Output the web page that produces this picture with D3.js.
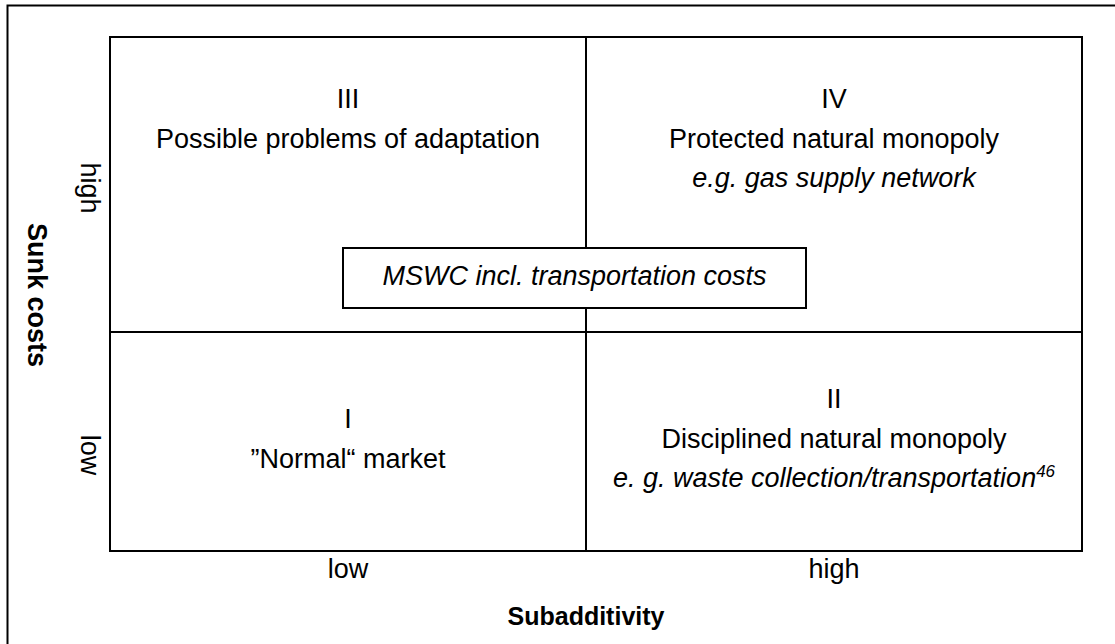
<!DOCTYPE html>
<html>
<head>
<meta charset="utf-8">
<script src="https://cdn.jsdelivr.net/npm/d3@7"></script>
<style>
  body { margin: 0; background: #fff; }
  svg text { font-family: "Liberation Sans", Arial, sans-serif; fill: #000; }
</style>
</head>
<body>
<div id="chart"></div>
<script>
// categories on each axis
var xLevels = ["low", "high"];
var yLevels = ["high", "low"];

// quadrant texts: numeral, title, example
var quadNames = ["III", "IV", "I", "II"];
var quadX = ["low", "high", "low", "high"];
var quadY = ["high", "high", "low", "low"];
var quadTitles = ["Possible problems of adaptation", "Protected natural monopoly", "\u201DNormal\u201C market", "Disciplined natural monopoly"];
var quadExamples = ["", "e.g. gas supply network", "", "e. g. waste collection/transportation"];
var quadNotes = ["", "", "", "46"];

var centerLabel = "MSWC incl. transportation costs";
var xTitle = "Subadditivity";
var yTitle = "Sunk costs";

var width = 1115;
var height = 644;
var fontSize = 27;

var svg = d3.select("#chart")
    .append("svg")
    .attr("width", width)
    .attr("height", height);

// frame round the whole figure (right & bottom run off the page)
svg.append("rect")
    .attr("x", 7.5)
    .attr("y", 5.5)
    .attr("width", width + 20)
    .attr("height", height + 20)
    .attr("fill", "none")
    .attr("stroke", "#000")
    .attr("stroke-width", 2);

// piecewise scales: the split between low and high is not in the middle
var xScale = d3.scaleLinear().domain([0, 1, 2]).range([110, 586, 1082]);
var yScale = d3.scaleLinear().domain([0, 1, 2]).range([37, 332, 551]);
function xStart(d) { return xScale(xLevels.indexOf(d)); }
function xMid(d) { return xScale(xLevels.indexOf(d) + 0.5); }
function yStart(d) { return yScale(yLevels.indexOf(d)); }
function yMid(d) { return yScale(yLevels.indexOf(d) + 0.5); }

var x0 = xScale(0), x1 = xScale(2);
var y0 = yScale(0), y1 = yScale(2);

// the matrix box
svg.append("rect")
    .attr("x", x0)
    .attr("y", y0)
    .attr("width", x1 - x0)
    .attr("height", y1 - y0)
    .attr("fill", "none")
    .attr("stroke", "#000")
    .attr("stroke-width", 2);

// middle lines
svg.append("line")
    .attr("x1", xStart("high")).attr("x2", xStart("high"))
    .attr("y1", y0).attr("y2", y1)
    .attr("stroke", "#000").attr("stroke-width", 2);
svg.append("line")
    .attr("x1", x0).attr("x2", x1)
    .attr("y1", yStart("low")).attr("y2", yStart("low"))
    .attr("stroke", "#000").attr("stroke-width", 2);

// quadrant texts
var lineGap = 40;
quadNames.forEach(function(name, i) {
    var cx = xMid(quadX[i]);
    var lines = [name, quadTitles[i]];
    if (quadExamples[i]) lines.push(quadExamples[i]);
    var top;
    if (quadY[i] === "high") top = yStart("high") + 71;
    else top = yStart("low") + (lines.length === 3 ? 76 : 96);
    lines.forEach(function(t, j) {
        var txt = svg.append("text")
            .attr("x", cx)
            .attr("y", top + j * lineGap - (j === 2 ? 1 : 0))
            .attr("text-anchor", "middle")
            .attr("font-size", fontSize)
            .attr("font-style", j === 2 ? "italic" : "normal");
        txt.append("tspan").text(t);
        if (j === 2 && quadNotes[i]) {
            txt.append("tspan")
                .attr("font-size", 17)
                .attr("dy", -10)
                .text(quadNotes[i]);
        }
    });
});

// box in the middle
svg.append("rect")
    .attr("x", 343)
    .attr("y", 248)
    .attr("width", 806 - 343)
    .attr("height", 308 - 248)
    .attr("fill", "#fff")
    .attr("stroke", "#000")
    .attr("stroke-width", 2);
svg.append("text")
    .attr("x", (343 + 806) / 2)
    .attr("y", 285)
    .attr("text-anchor", "middle")
    .attr("font-size", fontSize)
    .attr("font-style", "italic")
    .text(centerLabel);

// x axis labels
svg.selectAll(".xlab")
    .data(xLevels)
    .enter()
    .append("text")
    .attr("class", "xlab")
    .attr("x", function(d) { return xMid(d); })
    .attr("y", 578)
    .attr("text-anchor", "middle")
    .attr("font-size", fontSize)
    .text(function(d) { return d; });

svg.append("text")
    .attr("x", xStart("high"))
    .attr("y", 625)
    .attr("text-anchor", "middle")
    .attr("font-size", 25)
    .attr("font-weight", "bold")
    .text(xTitle);

// y axis labels, turned to read downwards
var yLabelPos = { high: 188, low: 455 };
svg.selectAll(".ylab")
    .data(yLevels)
    .enter()
    .append("text")
    .attr("class", "ylab")
    .attr("transform", function(d) {
        return "translate(81," + yLabelPos[d] + ") rotate(90)";
    })
    .attr("text-anchor", "middle")
    .attr("font-size", fontSize)
    .text(function(d) { return d; });

svg.append("text")
    .attr("transform", "translate(28,295) rotate(90)")
    .attr("text-anchor", "middle")
    .attr("font-size", fontSize)
    .attr("font-weight", "bold")
    .text(yTitle);
</script>
</body>
</html>
